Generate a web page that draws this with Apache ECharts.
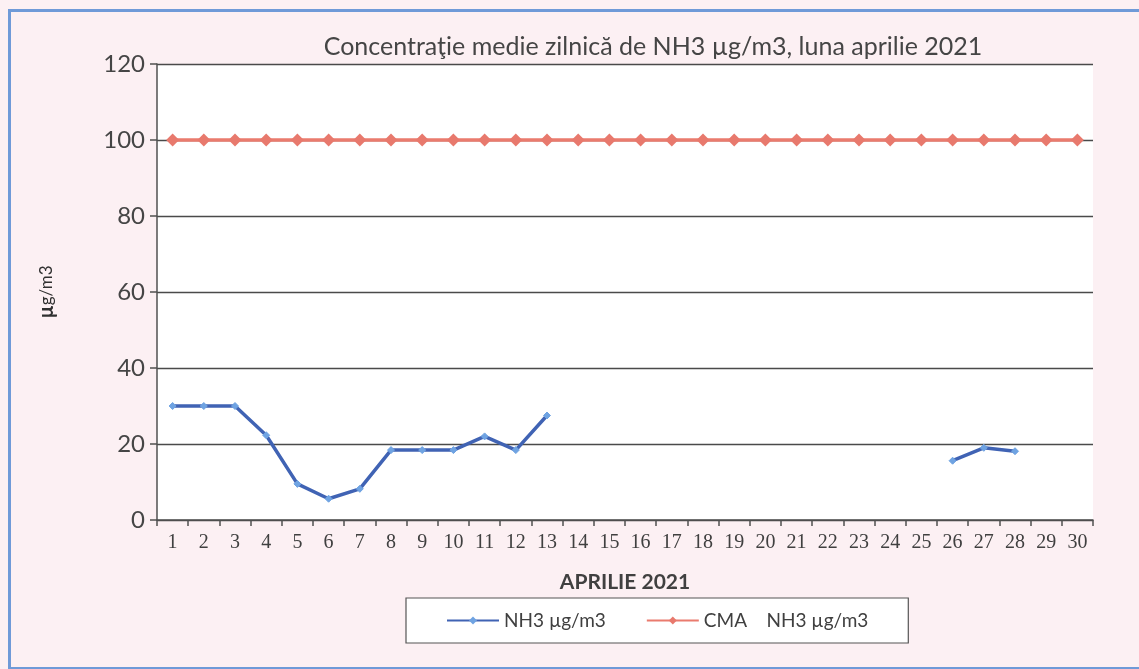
<!DOCTYPE html>
<html>
<head>
<meta charset="utf-8">
<script src="https://cdn.jsdelivr.net/npm/echarts@6/dist/echarts.min.js"></script>
<style>
html,body{margin:0;padding:0;background:#fcf0f3;}
#c{width:1139px;height:669px;}
</style>
</head>
<body>
<div id="c"></div>
<script>
const days = ['1','2','3','4','5','6','7','8','9','10','11','12','13','14','15','16','17','18','19','20','21','22','23','24','25','26','27','28','29','30'];
const nh3 = [30, 30, 30, 22.3, 9.5, 5.6, 8.2, 18.4, 18.4, 18.4, 22, 18.4, 27.5, null, null, null, null, null, null, null, null, null, null, null, null, 15.6, 19, 18.1, null, null];
const cma = [100,100,100,100,100,100,100,100,100,100,100,100,100,100,100,100,100,100,100,100,100,100,100,100,100,100,100,100,100,100];
const yTicks = [0, 20, 40, 60, 80, 100, 120];

const chart = echarts.init(document.getElementById('c'));
chart.setOption({
  backgroundColor: '#fcf0f3',
  animation: false,
  title: {
    text: 'Concentraţie medie zilnică de NH3 µg/m3, luna aprilie 2021',
    left: 648, textAlign: 'center', top: 29,
    textStyle: {fontFamily: 'Lato', fontSize: 25, fontWeight: 'normal', color: '#454545'}
  },
  graphic: [
    {type: 'rect', shape: {x: 9.5, y: 10.5, width: 1140, height: 658}, style: {fill: 'none', stroke: '#6f9ad8', lineWidth: 3}, z: 100}
  ],
  grid: {left: 157, right: 46, top: 64, bottom: 149, show: true, backgroundColor: '#ffffff', borderWidth: 0},
  legend: {
    left: 406, top: 598,
    padding: [13, 40, 13, 40],
    borderColor: '#555', borderWidth: 1.2, backgroundColor: '#ffffff',
    itemWidth: 52, itemHeight: 10, itemGap: 40,
    textStyle: {fontFamily: 'Lato', fontSize: 19, color: '#404040'},
    data: ['NH3 µg/m3', 'CMA    NH3 µg/m3']
  },
  xAxis: {
    type: 'category', data: days, boundaryGap: true,
    name: 'APRILIE 2021', nameLocation: 'middle', nameGap: 52,
    nameTextStyle: {fontFamily: 'Lato', fontSize: 21, fontWeight: 'bold', color: '#404040'},
    axisLine: {lineStyle: {color: '#505050', width: 1.5}},
    axisTick: {show: true, alignWithLabel: false, length: 6, lineStyle: {color: '#505050', width: 1.5}},
    axisLabel: {fontFamily: 'Liberation Serif', fontSize: 20, color: '#404040', margin: 13, interval: 0},
    splitLine: {show: false}
  },
  yAxis: {
    type: 'value', min: 0, max: 120, interval: 20,
    name: '{b|µ}g/m3', nameLocation: 'middle', nameGap: 100, nameRotate: 90,
    nameTextStyle: {fontFamily: 'Lato', fontSize: 17, color: '#303030',
      rich: {b: {fontFamily: 'Lato', fontSize: 20, fontWeight: 'bold', color: '#303030'}}},
    axisLine: {show: true, lineStyle: {color: '#505050', width: 1.5}},
    axisTick: {show: true, inside: false, length: 7, lineStyle: {color: '#505050', width: 1.5}},
    axisLabel: {fontFamily: 'Lato', fontSize: 24, color: '#454545', margin: 12,
      formatter: v => yTicks.includes(v) ? String(v) : ''},
    splitLine: {show: true, lineStyle: {color: '#4a4a4a', width: 1.3}}
  },
  series: [
    {
      name: 'NH3 µg/m3', type: 'line', data: nh3, connectNulls: false,
      symbol: 'diamond', symbolSize: 7, showAllSymbol: true,
      lineStyle: {color: '#4063b4', width: 3.5},
      itemStyle: {color: '#6fa3e2', borderColor: '#6fa3e2'},
      z: 3
    },
    {
      name: 'CMA    NH3 µg/m3', type: 'line', data: cma,
      symbol: 'diamond', symbolSize: 13, showAllSymbol: true,
      lineStyle: {color: '#ea7b6e', width: 3.5},
      itemStyle: {color: '#e8796d'},
      z: 2
    }
  ]
});
</script>
</body>
</html>
